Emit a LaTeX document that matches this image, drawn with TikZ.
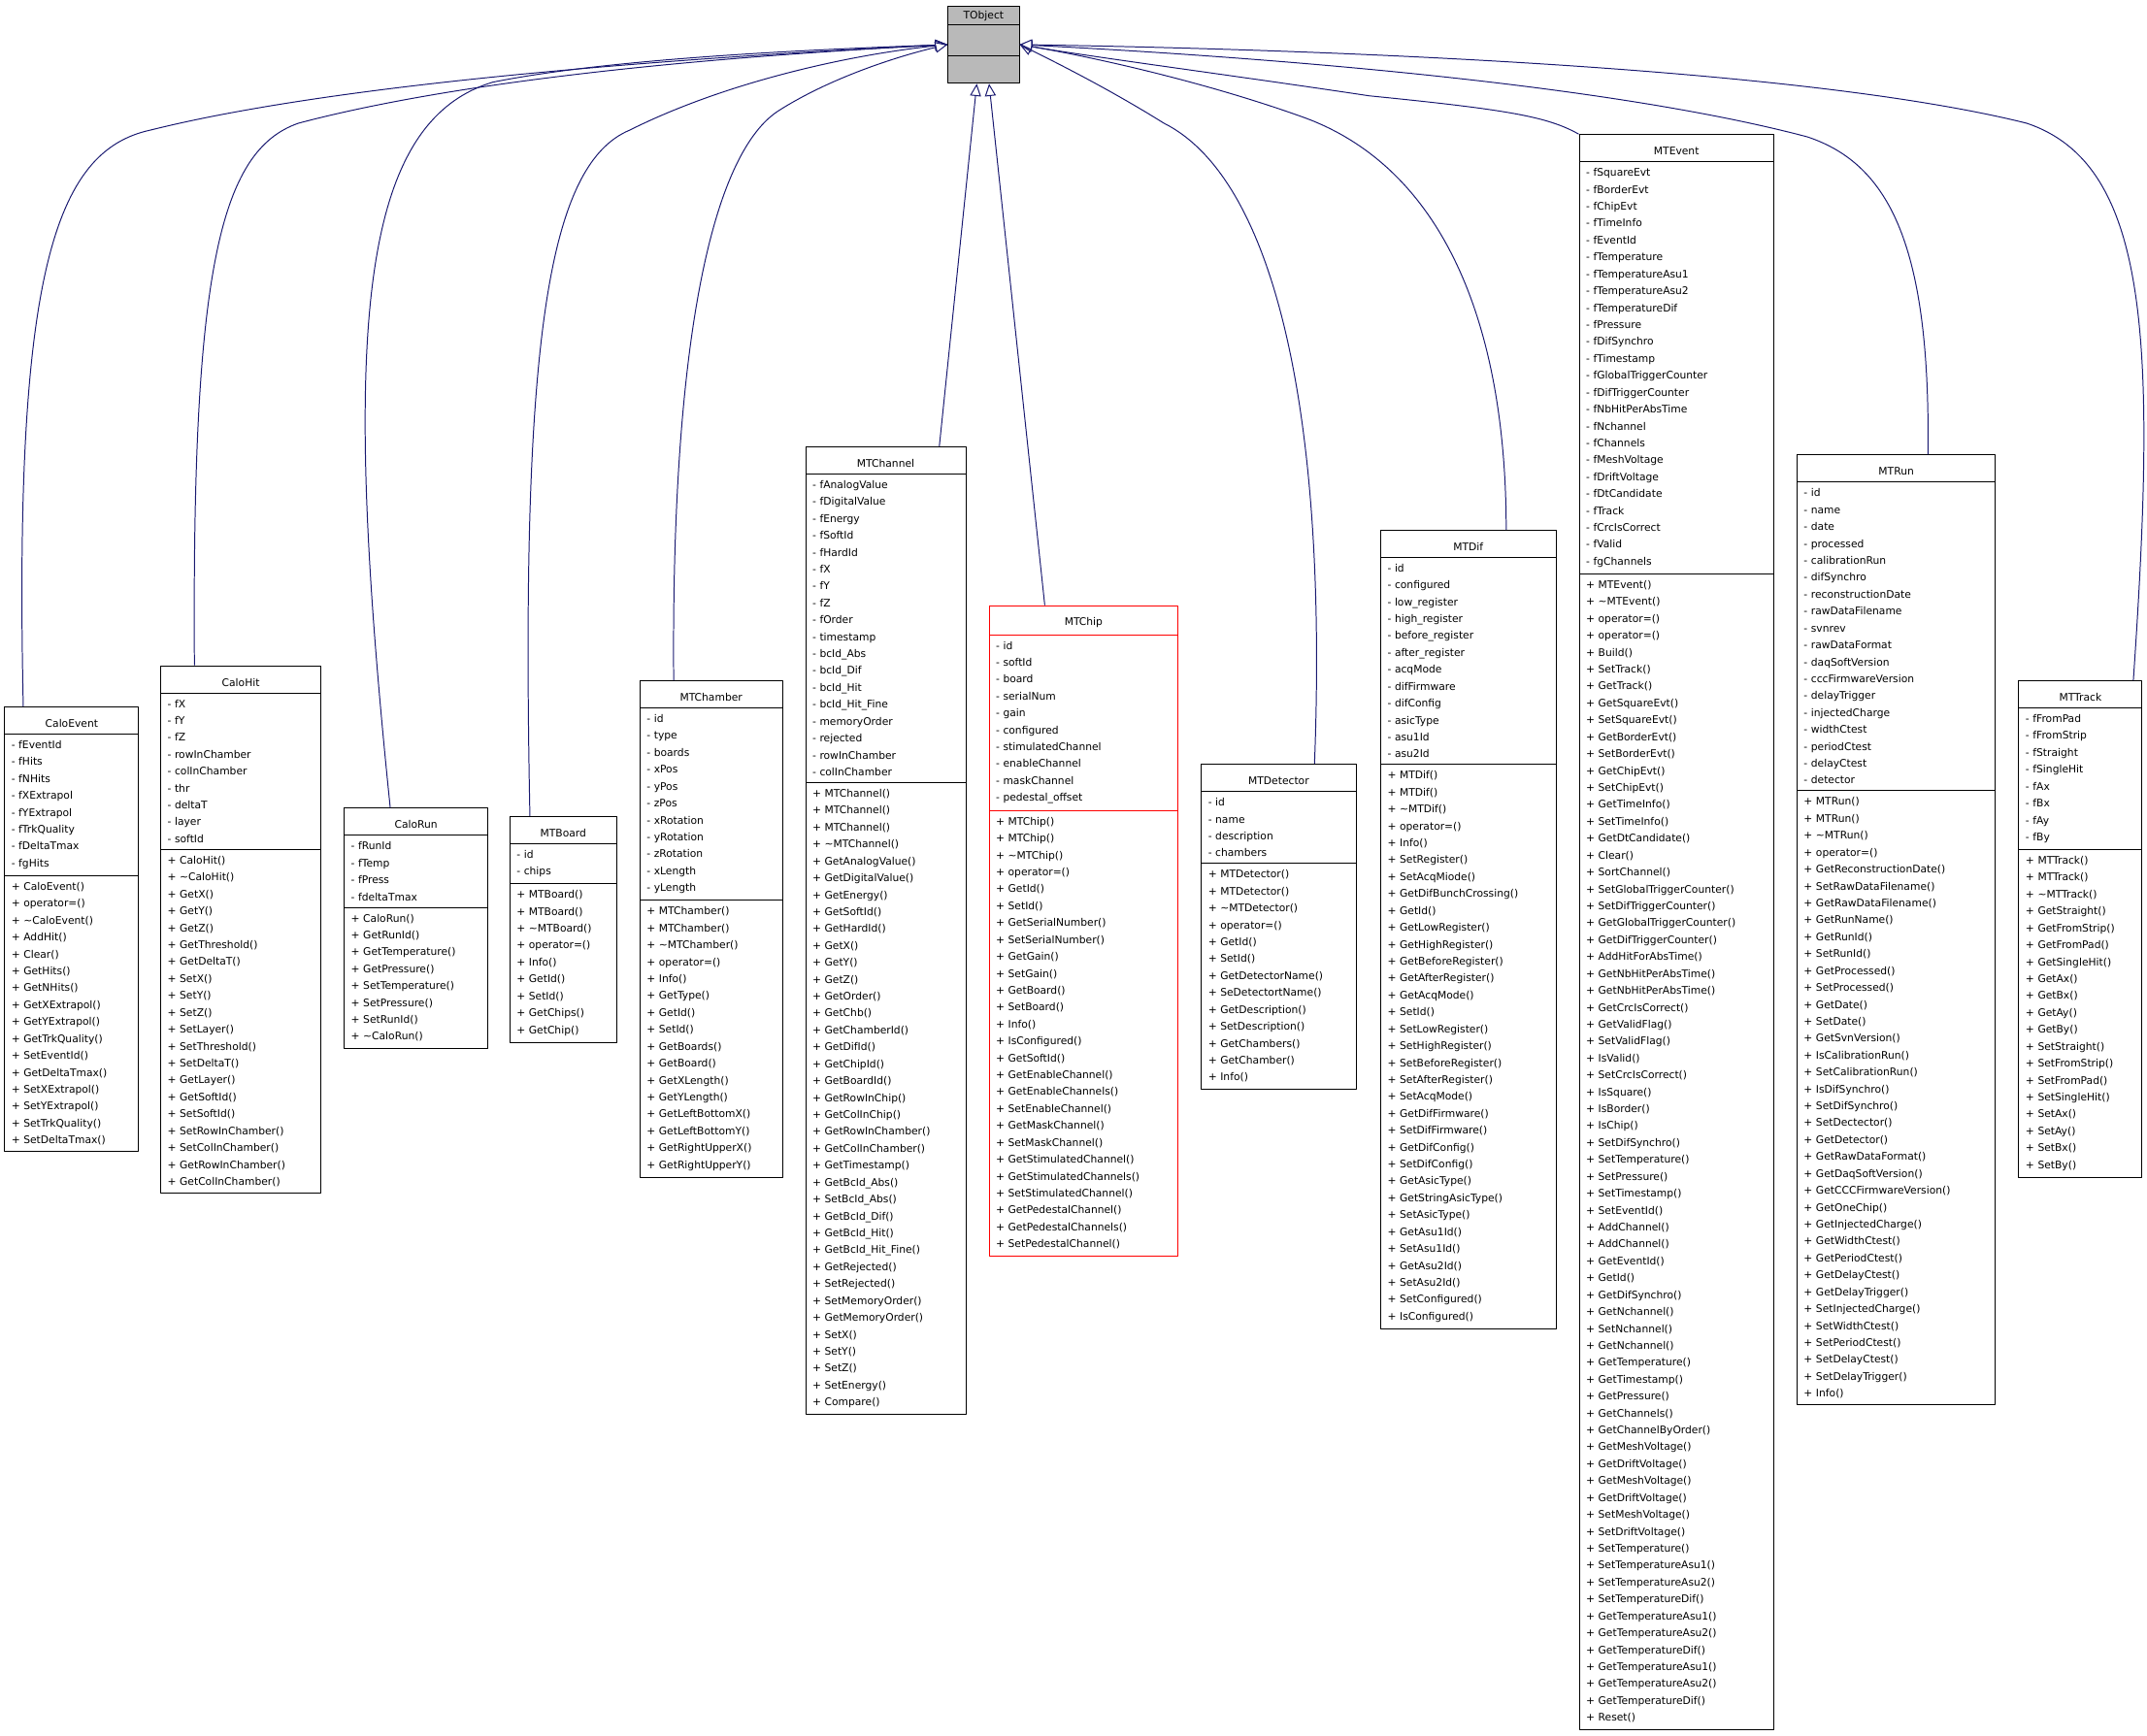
\documentclass[tikz,border=0pt]{standalone}
\usepackage{fontspec}
\setmainfont{DejaVu Sans}
\usepackage{tikz}
\usetikzlibrary{positioning,shapes.multipart,arrows.meta,calc}

\definecolor{edgeblue}{RGB}{25,25,112}
\newcommand{\ttl}[1]{\makebox[\linewidth]{\rule{0pt}{10pt}#1}}

\tikzset{
  umlclass/.style={rectangle split, rectangle split parts=3, draw, anchor=north west,
    inner xsep=5pt, inner ysep=4.5pt, align=left, fill=white, line width=0.7pt,
    font=\fontsize{7.6}{12.35}\selectfont},
  inh/.style={edgeblue, line width=0.7pt, -{Triangle[open,fill=white,length=9pt,width=8pt]}}
}

\begin{document}
\begin{tikzpicture}[x=1pt, y=-1pt, line join=round]
\useasboundingbox (0,0) rectangle (1568,1268);

% base class
\node[rectangle split, rectangle split parts=3, draw, fill=gray!55, minimum width=52pt, line width=0.7pt,
  inner ysep=3pt, font=\fontsize{7.6}{12.35}\selectfont, anchor=north west] (tobject) at (692,4)
  {TObject \nodepart{two}\rule{0pt}{16pt} \nodepart{three}\rule{0pt}{13pt}};

% classes
\node[umlclass, text width=88pt] (caloevent) at (3,516) {\ttl{CaloEvent}
\nodepart{two}- fEventId\\- fHits\\- fNHits\\- fXExtrapol\\- fYExtrapol\\- fTrkQuality\\- fDeltaTmax\\- fgHits
\nodepart{three}+ CaloEvent()\\+ operator=()\\+ \textasciitilde CaloEvent()\\+ AddHit()\\+ Clear()\\+ GetHits()\\+ GetNHits()\\+ GetXExtrapol()\\+ GetYExtrapol()\\+ GetTrkQuality()\\+ SetEventId()\\+ GetDeltaTmax()\\+ SetXExtrapol()\\+ SetYExtrapol()\\+ SetTrkQuality()\\+ SetDeltaTmax()};

\node[umlclass, text width=107pt] (calohit) at (117,486) {\ttl{CaloHit}
\nodepart{two}- fX\\- fY\\- fZ\\- rowInChamber\\- colInChamber\\- thr\\- deltaT\\- layer\\- softId
\nodepart{three}+ CaloHit()\\+ \textasciitilde CaloHit()\\+ GetX()\\+ GetY()\\+ GetZ()\\+ GetThreshold()\\+ GetDeltaT()\\+ SetX()\\+ SetY()\\+ SetZ()\\+ SetLayer()\\+ SetThreshold()\\+ SetDeltaT()\\+ GetLayer()\\+ GetSoftId()\\+ SetSoftId()\\+ SetRowInChamber()\\+ SetColInChamber()\\+ GetRowInChamber()\\+ GetColInChamber()};

\node[umlclass, text width=95pt] (calorun) at (251,590) {\ttl{CaloRun}
\nodepart{two}- fRunId\\- fTemp\\- fPress\\- fdeltaTmax
\nodepart{three}+ CaloRun()\\+ GetRunId()\\+ GetTemperature()\\+ GetPressure()\\+ SetTemperature()\\+ SetPressure()\\+ SetRunId()\\+ \textasciitilde CaloRun()};

\node[umlclass, text width=68pt] (mtboard) at (372,596) {\ttl{MTBoard}
\nodepart{two}- id\\- chips
\nodepart{three}+ MTBoard()\\+ MTBoard()\\+ \textasciitilde MTBoard()\\+ operator=()\\+ Info()\\+ GetId()\\+ SetId()\\+ GetChips()\\+ GetChip()};

\node[umlclass, text width=94pt] (mtchamber) at (467,497) {\ttl{MTChamber}
\nodepart{two}- id\\- type\\- boards\\- xPos\\- yPos\\- zPos\\- xRotation\\- yRotation\\- zRotation\\- xLength\\- yLength
\nodepart{three}+ MTChamber()\\+ MTChamber()\\+ \textasciitilde MTChamber()\\+ operator=()\\+ Info()\\+ GetType()\\+ GetId()\\+ SetId()\\+ GetBoards()\\+ GetBoard()\\+ GetXLength()\\+ GetYLength()\\+ GetLeftBottomX()\\+ GetLeftBottomY()\\+ GetRightUpperX()\\+ GetRightUpperY()};

\node[umlclass, text width=107pt] (mtchannel) at (588,326) {\ttl{MTChannel}
\nodepart{two}- fAnalogValue\\- fDigitalValue\\- fEnergy\\- fSoftId\\- fHardId\\- fX\\- fY\\- fZ\\- fOrder\\- timestamp\\- bcId\_Abs\\- bcId\_Dif\\- bcId\_Hit\\- bcId\_Hit\_Fine\\- memoryOrder\\- rejected\\- rowInChamber\\- colInChamber
\nodepart{three}+ MTChannel()\\+ MTChannel()\\+ MTChannel()\\+ \textasciitilde MTChannel()\\+ GetAnalogValue()\\+ GetDigitalValue()\\+ GetEnergy()\\+ GetSoftId()\\+ GetHardId()\\+ GetX()\\+ GetY()\\+ GetZ()\\+ GetOrder()\\+ GetChb()\\+ GetChamberId()\\+ GetDifId()\\+ GetChipId()\\+ GetBoardId()\\+ GetRowInChip()\\+ GetColInChip()\\+ GetRowInChamber()\\+ GetColInChamber()\\+ GetTimestamp()\\+ GetBcId\_Abs()\\+ SetBcId\_Abs()\\+ GetBcId\_Dif()\\+ GetBcId\_Hit()\\+ GetBcId\_Hit\_Fine()\\+ GetRejected()\\+ SetRejected()\\+ SetMemoryOrder()\\+ GetMemoryOrder()\\+ SetX()\\+ SetY()\\+ SetZ()\\+ SetEnergy()\\+ Compare()};

\node[umlclass, text width=128pt, draw=red] (mtchip) at (722,442) {\ttl{MTChip}
\nodepart{two}- id\\- softId\\- board\\- serialNum\\- gain\\- configured\\- stimulatedChannel\\- enableChannel\\- maskChannel\\- pedestal\_offset
\nodepart{three}+ MTChip()\\+ MTChip()\\+ \textasciitilde MTChip()\\+ operator=()\\+ GetId()\\+ SetId()\\+ GetSerialNumber()\\+ SetSerialNumber()\\+ GetGain()\\+ SetGain()\\+ GetBoard()\\+ SetBoard()\\+ Info()\\+ IsConfigured()\\+ GetSoftId()\\+ GetEnableChannel()\\+ GetEnableChannels()\\+ SetEnableChannel()\\+ GetMaskChannel()\\+ SetMaskChannel()\\+ GetStimulatedChannel()\\+ GetStimulatedChannels()\\+ SetStimulatedChannel()\\+ GetPedestalChannel()\\+ GetPedestalChannels()\\+ SetPedestalChannel()};

\node[umlclass, text width=103pt] (mtdetector) at (877,558) {\ttl{MTDetector}
\nodepart{two}- id\\- name\\- description\\- chambers
\nodepart{three}+ MTDetector()\\+ MTDetector()\\+ \textasciitilde MTDetector()\\+ operator=()\\+ GetId()\\+ SetId()\\+ GetDetectorName()\\+ SeDetectortName()\\+ GetDescription()\\+ SetDescription()\\+ GetChambers()\\+ GetChamber()\\+ Info()};

\node[umlclass, text width=118pt] (mtdif) at (1008,387) {\ttl{MTDif}
\nodepart{two}- id\\- configured\\- low\_register\\- high\_register\\- before\_register\\- after\_register\\- acqMode\\- difFirmware\\- difConfig\\- asicType\\- asu1Id\\- asu2Id
\nodepart{three}+ MTDif()\\+ MTDif()\\+ \textasciitilde MTDif()\\+ operator=()\\+ Info()\\+ SetRegister()\\+ SetAcqMiode()\\+ GetDifBunchCrossing()\\+ GetId()\\+ GetLowRegister()\\+ GetHighRegister()\\+ GetBeforeRegister()\\+ GetAfterRegister()\\+ GetAcqMode()\\+ SetId()\\+ SetLowRegister()\\+ SetHighRegister()\\+ SetBeforeRegister()\\+ SetAfterRegister()\\+ SetAcqMode()\\+ GetDifFirmware()\\+ SetDifFirmware()\\+ GetDifConfig()\\+ SetDifConfig()\\+ GetAsicType()\\+ GetStringAsicType()\\+ SetAsicType()\\+ GetAsu1Id()\\+ SetAsu1Id()\\+ GetAsu2Id()\\+ SetAsu2Id()\\+ SetConfigured()\\+ IsConfigured()};

\node[umlclass, text width=132pt] (mtevent) at (1153,98) {\ttl{MTEvent}
\nodepart{two}- fSquareEvt\\- fBorderEvt\\- fChipEvt\\- fTimeInfo\\- fEventId\\- fTemperature\\- fTemperatureAsu1\\- fTemperatureAsu2\\- fTemperatureDif\\- fPressure\\- fDifSynchro\\- fTimestamp\\- fGlobalTriggerCounter\\- fDifTriggerCounter\\- fNbHitPerAbsTime\\- fNchannel\\- fChannels\\- fMeshVoltage\\- fDriftVoltage\\- fDtCandidate\\- fTrack\\- fCrcIsCorrect\\- fValid\\- fgChannels
\nodepart{three}+ MTEvent()\\+ \textasciitilde MTEvent()\\+ operator=()\\+ operator=()\\+ Build()\\+ SetTrack()\\+ GetTrack()\\+ GetSquareEvt()\\+ SetSquareEvt()\\+ GetBorderEvt()\\+ SetBorderEvt()\\+ GetChipEvt()\\+ SetChipEvt()\\+ GetTimeInfo()\\+ SetTimeInfo()\\+ GetDtCandidate()\\+ Clear()\\+ SortChannel()\\+ SetGlobalTriggerCounter()\\+ SetDifTriggerCounter()\\+ GetGlobalTriggerCounter()\\+ GetDifTriggerCounter()\\+ AddHitForAbsTime()\\+ GetNbHitPerAbsTime()\\+ GetNbHitPerAbsTime()\\+ GetCrcIsCorrect()\\+ GetValidFlag()\\+ SetValidFlag()\\+ IsValid()\\+ SetCrcIsCorrect()\\+ IsSquare()\\+ IsBorder()\\+ IsChip()\\+ SetDifSynchro()\\+ SetTemperature()\\+ SetPressure()\\+ SetTimestamp()\\+ SetEventId()\\+ AddChannel()\\+ AddChannel()\\+ GetEventId()\\+ GetId()\\+ GetDifSynchro()\\+ GetNchannel()\\+ SetNchannel()\\+ GetNchannel()\\+ GetTemperature()\\+ GetTimestamp()\\+ GetPressure()\\+ GetChannels()\\+ GetChannelByOrder()\\+ GetMeshVoltage()\\+ GetDriftVoltage()\\+ GetMeshVoltage()\\+ GetDriftVoltage()\\+ SetMeshVoltage()\\+ SetDriftVoltage()\\+ SetTemperature()\\+ SetTemperatureAsu1()\\+ SetTemperatureAsu2()\\+ SetTemperatureDif()\\+ GetTemperatureAsu1()\\+ GetTemperatureAsu2()\\+ GetTemperatureDif()\\+ GetTemperatureAsu1()\\+ GetTemperatureAsu2()\\+ GetTemperatureDif()\\+ Reset()};

\node[umlclass, text width=135pt] (mtrun) at (1312,332) {\ttl{MTRun}
\nodepart{two}- id\\- name\\- date\\- processed\\- calibrationRun\\- difSynchro\\- reconstructionDate\\- rawDataFilename\\- svnrev\\- rawDataFormat\\- daqSoftVersion\\- cccFirmwareVersion\\- delayTrigger\\- injectedCharge\\- widthCtest\\- periodCtest\\- delayCtest\\- detector
\nodepart{three}+ MTRun()\\+ MTRun()\\+ \textasciitilde MTRun()\\+ operator=()\\+ GetReconstructionDate()\\+ SetRawDataFilename()\\+ GetRawDataFilename()\\+ GetRunName()\\+ GetRunId()\\+ SetRunId()\\+ GetProcessed()\\+ SetProcessed()\\+ GetDate()\\+ SetDate()\\+ GetSvnVersion()\\+ IsCalibrationRun()\\+ SetCalibrationRun()\\+ IsDifSynchro()\\+ SetDifSynchro()\\+ SetDectector()\\+ GetDetector()\\+ GetRawDataFormat()\\+ GetDaqSoftVersion()\\+ GetCCCFirmwareVersion()\\+ GetOneChip()\\+ GetInjectedCharge()\\+ GetWidthCtest()\\+ GetPeriodCtest()\\+ GetDelayCtest()\\+ GetDelayTrigger()\\+ SetInjectedCharge()\\+ SetWidthCtest()\\+ SetPeriodCtest()\\+ SetDelayCtest()\\+ SetDelayTrigger()\\+ Info()};

\node[umlclass, text width=80pt] (mttrack) at (1474,497) {\ttl{MTTrack}
\nodepart{two}- fFromPad\\- fFromStrip\\- fStraight\\- fSingleHit\\- fAx\\- fBx\\- fAy\\- fBy
\nodepart{three}+ MTTrack()\\+ MTTrack()\\+ \textasciitilde MTTrack()\\+ GetStraight()\\+ GetFromStrip()\\+ GetFromPad()\\+ GetSingleHit()\\+ GetAx()\\+ GetBx()\\+ GetAy()\\+ GetBy()\\+ SetStraight()\\+ SetFromStrip()\\+ SetFromPad()\\+ SetSingleHit()\\+ SetAx()\\+ SetAy()\\+ SetBx()\\+ SetBy()};

% inheritance edges
\draw[inh] ($(caloevent.north west)+(14,0)$) .. controls (10,200) and (40,110) .. (110,95) .. controls (250,60) and (500,42) .. (tobject.west);
\draw[inh] ($(calohit.north west)+(25,0)$) .. controls (140,200) and (160,110) .. (218,90) .. controls (350,55) and (550,40) .. (tobject.west);
\draw[inh] ($(calorun.north west)+(34,0)$) .. controls (250,250) and (260,90) .. (360,60) .. controls (450,42) and (600,36) .. (tobject.west);
\draw[inh] ($(mtboard.north west)+(15,0)$) .. controls (380,250) and (400,120) .. (460,95) .. controls (530,60) and (620,40) .. (tobject.west);
\draw[inh] ($(mtchamber.north west)+(25,0)$) .. controls (490,250) and (520,110) .. (570,80) .. controls (610,55) and (660,40) .. (tobject.west);
\draw[inh] ($(mtchannel.north west)+(98,0)$) -- ($(tobject.south)+(-5,0)$);
\draw[inh] ($(mtchip.north west)+(41,0)$) -- ($(tobject.south)+(4,0)$);
\draw[inh] ($(mtdetector.north west)+(83,0)$) .. controls (970,300) and (930,130) .. (850,90) .. controls (810,65) and (770,45) .. (tobject.east);
\draw[inh] ($(mtdif.north west)+(92,0)$) .. controls (1100,230) and (1050,120) .. (950,85) .. controls (880,60) and (800,42) .. (tobject.east);
\draw[inh] (mtevent.north west) .. controls (1130,85) and (1100,80) .. (1000,70) .. controls (900,55) and (800,42) .. (tobject.east);
\draw[inh] ($(mtrun.north west)+(96,0)$) .. controls (1410,180) and (1380,120) .. (1320,100) .. controls (1150,55) and (850,38) .. (tobject.east);
\draw[inh] ($(mttrack.north west)+(84,0)$) .. controls (1575,250) and (1570,120) .. (1480,90) .. controls (1300,45) and (900,35) .. (tobject.east);
\end{tikzpicture}
\end{document}
